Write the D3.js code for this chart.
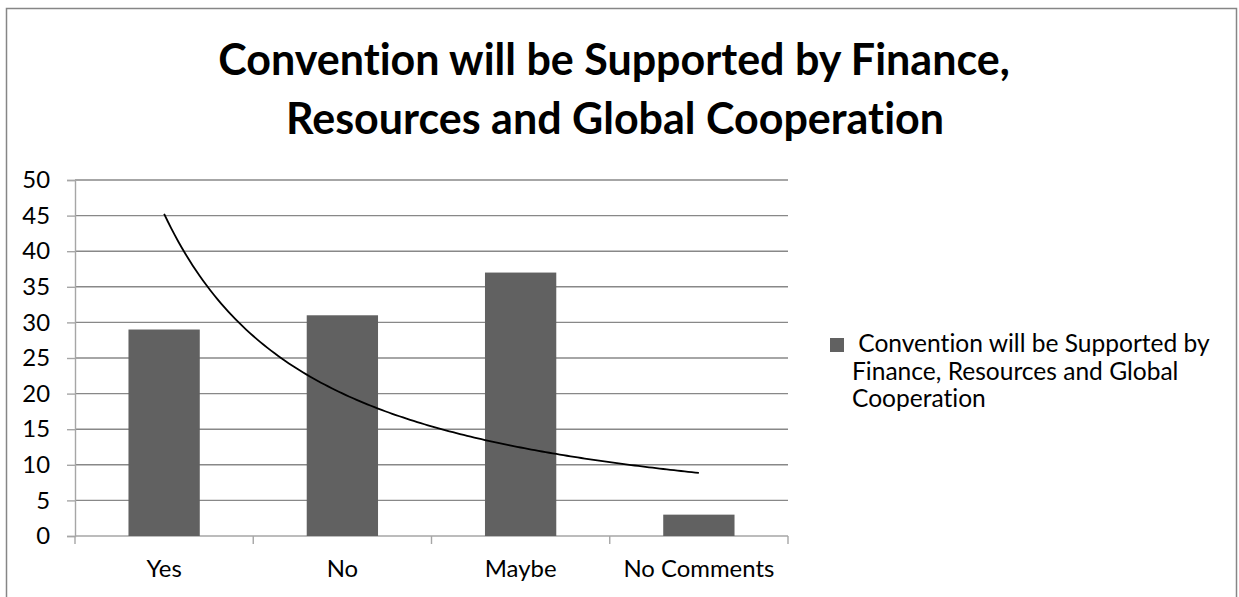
<!DOCTYPE html>
<html>
<head>
<meta charset="utf-8">
<script src="https://cdn.jsdelivr.net/npm/d3@7"></script>
<style>
  html, body { margin: 0; padding: 0; background: #fff; }
  svg { display: block; }
  text {
    font-family: Lato, "Open Sans", sans-serif;
    fill: #000;
    font-variant-ligatures: none;
    font-feature-settings: "liga" 0, "clig" 0, "dlig" 0;
  }
</style>
</head>
<body>
<svg id="chart" width="1239" height="597"></svg>
<script>
// Survey responses
const categories = ["Yes", "No", "Maybe", "No Comments"];
const values = [29, 31, 37, 3];
const yTicks = [0, 5, 10, 15, 20, 25, 30, 35, 40, 45, 50];
const titleLines = ["Convention will be Supported by Finance,", "Resources and Global Cooperation"];
const legendLines = [" Convention will be Supported by", "Finance, Resources and Global", "Cooperation"];

const svg = d3.select("#chart");
const plot = { left: 75, right: 788, top: 180, bottom: 536 };
const gridColor = "#888888";
const axisColor = "#a6a6a6";
const barColor = "#616161";

// Shrink or grow a text element's font size so it spans the given width
function fitWidth(sel, target) {
  const base = parseFloat(sel.style("font-size"));
  const len = sel.node().getComputedTextLength();
  const size = base * target / len;
  sel.style("font-size", size + "px");
  return size;
}

// Chart frame
svg.append("rect")
  .attr("x", 6.5).attr("y", 8.5)
  .attr("width", 1230).attr("height", 600)
  .attr("fill", "#fff")
  .attr("stroke", "#868686").attr("stroke-width", 1.5);

// Title
const t1 = svg.append("text")
  .attr("x", 614).attr("y", 75)
  .attr("text-anchor", "middle")
  .style("font-weight", "bold").style("font-size", "40px")
  .text(titleLines[0]);
const titleSize = fitWidth(t1, 792);
svg.append("text")
  .attr("x", 615).attr("y", 134)
  .attr("text-anchor", "middle")
  .style("font-weight", "bold").style("font-size", titleSize + "px")
  .text(titleLines[1]);

// Scales
const x = d3.scaleBand().domain(categories).range([plot.left, plot.right]).paddingInner(0).paddingOuter(0);
const y = d3.scaleLinear().domain([0, 50]).range([plot.bottom, plot.top]);
const barW = x.bandwidth() * 0.4;

// Axis font size taken from the widest category label
const probe = svg.append("text").style("font-size", "20px").text("No Comments");
const axisSize = fitWidth(probe, 151);
probe.remove();

// Horizontal gridlines
svg.append("g")
  .selectAll("line")
  .data(yTicks.filter(d => d > 0))
  .join("line")
  .attr("x1", plot.left).attr("x2", plot.right)
  .attr("y1", d => y(d)).attr("y2", d => y(d))
  .attr("stroke", gridColor).attr("stroke-width", 1.4);

// Y axis
const yAxis = svg.append("g")
  .attr("transform", `translate(${plot.left},0)`)
  .call(d3.axisLeft(y).tickValues(yTicks).tickSize(8).tickPadding(17).tickFormat(d3.format("d")));
yAxis.select(".domain").attr("stroke", axisColor).attr("stroke-width", 1.4);
yAxis.selectAll(".tick line").attr("stroke", axisColor).attr("stroke-width", 1.4);
yAxis.selectAll(".tick text")
  .style("font-family", "Lato, sans-serif")
  .style("font-size", axisSize + "px")
  .attr("fill", "#000");

// X axis with tick marks on category boundaries
const xAxisG = svg.append("g").attr("transform", `translate(0,${plot.bottom})`);
xAxisG.append("line")
  .attr("x1", plot.left).attr("x2", plot.right)
  .attr("stroke", axisColor).attr("stroke-width", 1.4);
const boundaries = categories.map(c => x(c)).concat([x(categories[categories.length - 1]) + x.bandwidth()]);
xAxisG.selectAll("line.tk")
  .data(boundaries)
  .join("line").attr("class", "tk")
  .attr("x1", d => d).attr("x2", d => d)
  .attr("y1", 0).attr("y2", 8)
  .attr("stroke", axisColor).attr("stroke-width", 1.4);
xAxisG.selectAll("text")
  .data(categories)
  .join("text")
  .attr("x", d => x(d) + x.bandwidth() / 2)
  .attr("y", 41)
  .attr("text-anchor", "middle")
  .style("font-size", axisSize + "px")
  .text(d => d);

// Bars
svg.append("g")
  .selectAll("rect")
  .data(values)
  .join("rect")
  .attr("x", (d, i) => x(categories[i]) + (x.bandwidth() - barW) / 2)
  .attr("y", d => y(d))
  .attr("width", barW)
  .attr("height", d => y(0) - y(d))
  .attr("fill", barColor);

// Power trendline (y = a * x^b) fitted to the bar values by least squares in log space
const lx = values.map((v, i) => Math.log(i + 1));
const ly = values.map(v => Math.log(v));
const mx = d3.mean(lx), my = d3.mean(ly);
const b = d3.sum(lx.map((v, i) => (v - mx) * (ly[i] - my))) / d3.sum(lx.map(v => (v - mx) * (v - mx)));
const a = Math.exp(my - b * mx);
const trendX = d3.scaleLinear().domain([1, categories.length])
  .range([x(categories[0]) + x.bandwidth() / 2, x(categories[categories.length - 1]) + x.bandwidth() / 2]);
const trendPts = d3.range(1, categories.length + 0.001, 0.02).map(t => [trendX(t), y(a * Math.pow(t, b))]);
svg.append("path")
  .attr("d", d3.line()(trendPts))
  .attr("fill", "none")
  .attr("stroke", "#000")
  .attr("stroke-width", 1.8);

// Legend
svg.append("rect")
  .attr("x", 830).attr("y", 338)
  .attr("width", 14).attr("height", 14)
  .attr("fill", barColor);
const lg = svg.append("g");
const l1 = lg.append("text")
  .attr("x", 852).attr("y", 352)
  .attr("xml:space", "preserve")
  .style("white-space", "pre")
  .style("font-size", "20px")
  .text(legendLines[0]);
const legendSize = fitWidth(l1, 358);
legendLines.slice(1).forEach((line, i) => {
  lg.append("text")
    .attr("x", 852).attr("y", 352 + 27.5 * (i + 1))
    .style("font-size", legendSize + "px")
    .text(line);
});
</script>
</body>
</html>
